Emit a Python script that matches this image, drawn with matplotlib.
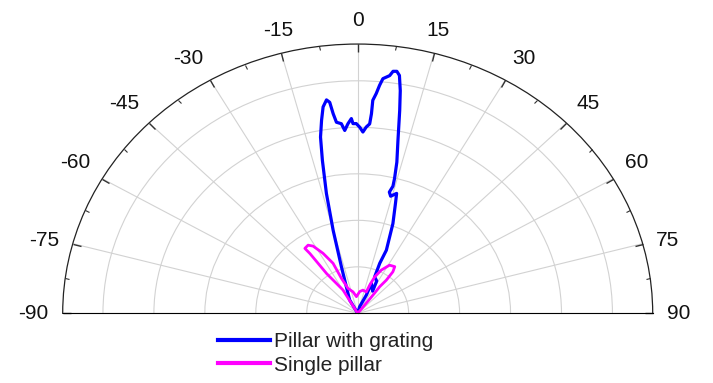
import numpy as np
import matplotlib
matplotlib.use('Agg')
import matplotlib.pyplot as plt
import matplotlib.ticker as mticker
from matplotlib.transforms import offset_copy

# ---- data ----
theta_ticks = list(range(-90, 91, 15))
tick_labels = [str(t) for t in theta_ticks]
r_rings = [1, 2, 3, 4, 5]
r_max = 5.79

grating_theta = [0, -28.8, -17.7, -15.1, -13.4, -11.9, -10.9, -9.7, -8.7, -7.6, -6.9,
                 -6.4, -5.8, -4.5, -3.7, -2.7, -1.7, -1.3, -0.4, 0.6, 1.5, 2.4, 3.3,
                 3.6, 3.7, 4.4, 5.0, 5.6, 7.0, 7.6, 8.4, 9.1, 9.9, 10.7, 12.0, 13.3,
                 14.0, 14.2, 13.4, 14.4, 16.5, 17.4, 19.7, 22.5, 21.9, 23.0, 28.2,
                 31.5, 22.6, 23.4, 15.0, 0]
grating_r = [0, 0.33, 1.05, 1.85, 2.65, 3.36, 3.86, 4.21, 4.49, 4.63, 4.57,
             4.32, 4.13, 4.09, 3.94, 4.08, 4.19, 4.08, 4.08, 4.00, 3.90, 4.01, 4.08,
             4.30, 4.59, 4.74, 4.92, 5.07, 5.15, 5.25, 5.26, 5.18, 4.86, 4.44, 3.80, 3.34,
             2.99, 2.82, 2.68, 2.60, 2.69, 2.48, 2.05, 1.47, 1.16, 0.85, 0.79,
             0.56, 0.70, 0.43, 0.15, 0]

single_theta = [0, -29.9, -35.5, -36.1, -36.6, -33.6, -31.2, -27.8, -24.2, -23.0,
                -19.5, -11.2, -4.0, 4.8, 11.7, 20.1, 21.2, 23.0, 26.5, 31.1, 35.9,
                37.7, 38.2, 37.0, 37.3, 37.6, 0]
single_r = [0, 0.58, 1.05, 1.59, 1.74, 1.76, 1.69, 1.46, 1.18, 0.82,
            0.57, 0.47, 0.36, 0.47, 0.51, 0.49, 0.65, 0.85, 1.04, 1.21, 1.24,
            1.13, 0.91, 0.72, 0.49, 0.23, 0]

series_labels = ['Pillar with grating', 'Single pillar']

# ---- plot ----
plt.rcParams['font.family'] = ['Liberation Sans', 'DejaVu Sans']
fig = plt.figure(figsize=(7.13, 3.83), dpi=100)
ax = fig.add_axes([0, 0, 1, 1], projection='polar')
ax.set_theta_zero_location('N')
ax.set_theta_direction(-1)
ax.set_thetamin(-90)
ax.set_thetamax(90)
ax.set_rlim(0, r_max)
ax.set_rgrids(r_rings)
ax.yaxis.set_major_formatter(mticker.NullFormatter())
ax.set_thetagrids(theta_ticks)
ax.xaxis.set_major_formatter(mticker.NullFormatter())
ax.grid(True, color='#d2d2d2', lw=0.8)

ax.plot(np.deg2rad(grating_theta), grating_r, color='#0000ff', lw=2.3,
        label=series_labels[0], solid_joinstyle='round')
ax.plot(np.deg2rad(single_theta), single_r, color='#ff00ff', lw=2.0,
        label=series_labels[1], solid_joinstyle='round')

ax.spines['start'].set_visible(False)
ax.spines['end'].set_visible(False)
ax.spines['inner'].set_visible(False)
ax.spines['polar'].set_color('#222222')
ax.spines['polar'].set_linewidth(0.9)

ax.xaxis.set_minor_locator(mticker.FixedLocator(np.deg2rad(np.arange(-82.5, 90, 15))))
ax.tick_params(axis='x', which='both', top=True, bottom=False,
               labeltop=False, labelbottom=False, direction='in')
ax.tick_params(axis='x', which='major', length=6, width=1, color='#333333')
ax.tick_params(axis='x', which='minor', length=3, width=0.8, color='#333333')
ax.tick_params(axis='y', length=0)

ax.set_aspect('auto')
ax.set_position([62.7 / 713, (383 - 448) / 383, 590 / 713, 538.6 / 383])

# angle labels just outside the outer arc, aligned by quadrant
gap = 10.0  # points
for t, lab in zip(theta_ticks, tick_labels):
    a = np.deg2rad(t)
    ha = 'left' if t > 20 else ('right' if t < -20 else 'center')
    va = 'bottom' if abs(t) < 70 else 'center'
    tr = offset_copy(ax.transData, fig=fig, x=gap * np.sin(a), y=gap * np.cos(a),
                     units='points')
    ax.text(a, r_max, lab, ha=ha, va=va, fontsize=15, color='#111111',
            transform=tr, clip_on=False)

leg = fig.legend(loc='center left', bbox_to_anchor=(218 / 713, 1 - 353.3 / 383),
                 frameon=False, borderpad=0, borderaxespad=0, handlelength=2.5,
                 handletextpad=0.2, labelspacing=0.22, fontsize=15)
for t in leg.get_texts():
    t.set_color('#222222')
for l in leg.get_lines():
    l.set_linewidth(3)

fig.savefig('out.png', dpi=100, facecolor='white')
